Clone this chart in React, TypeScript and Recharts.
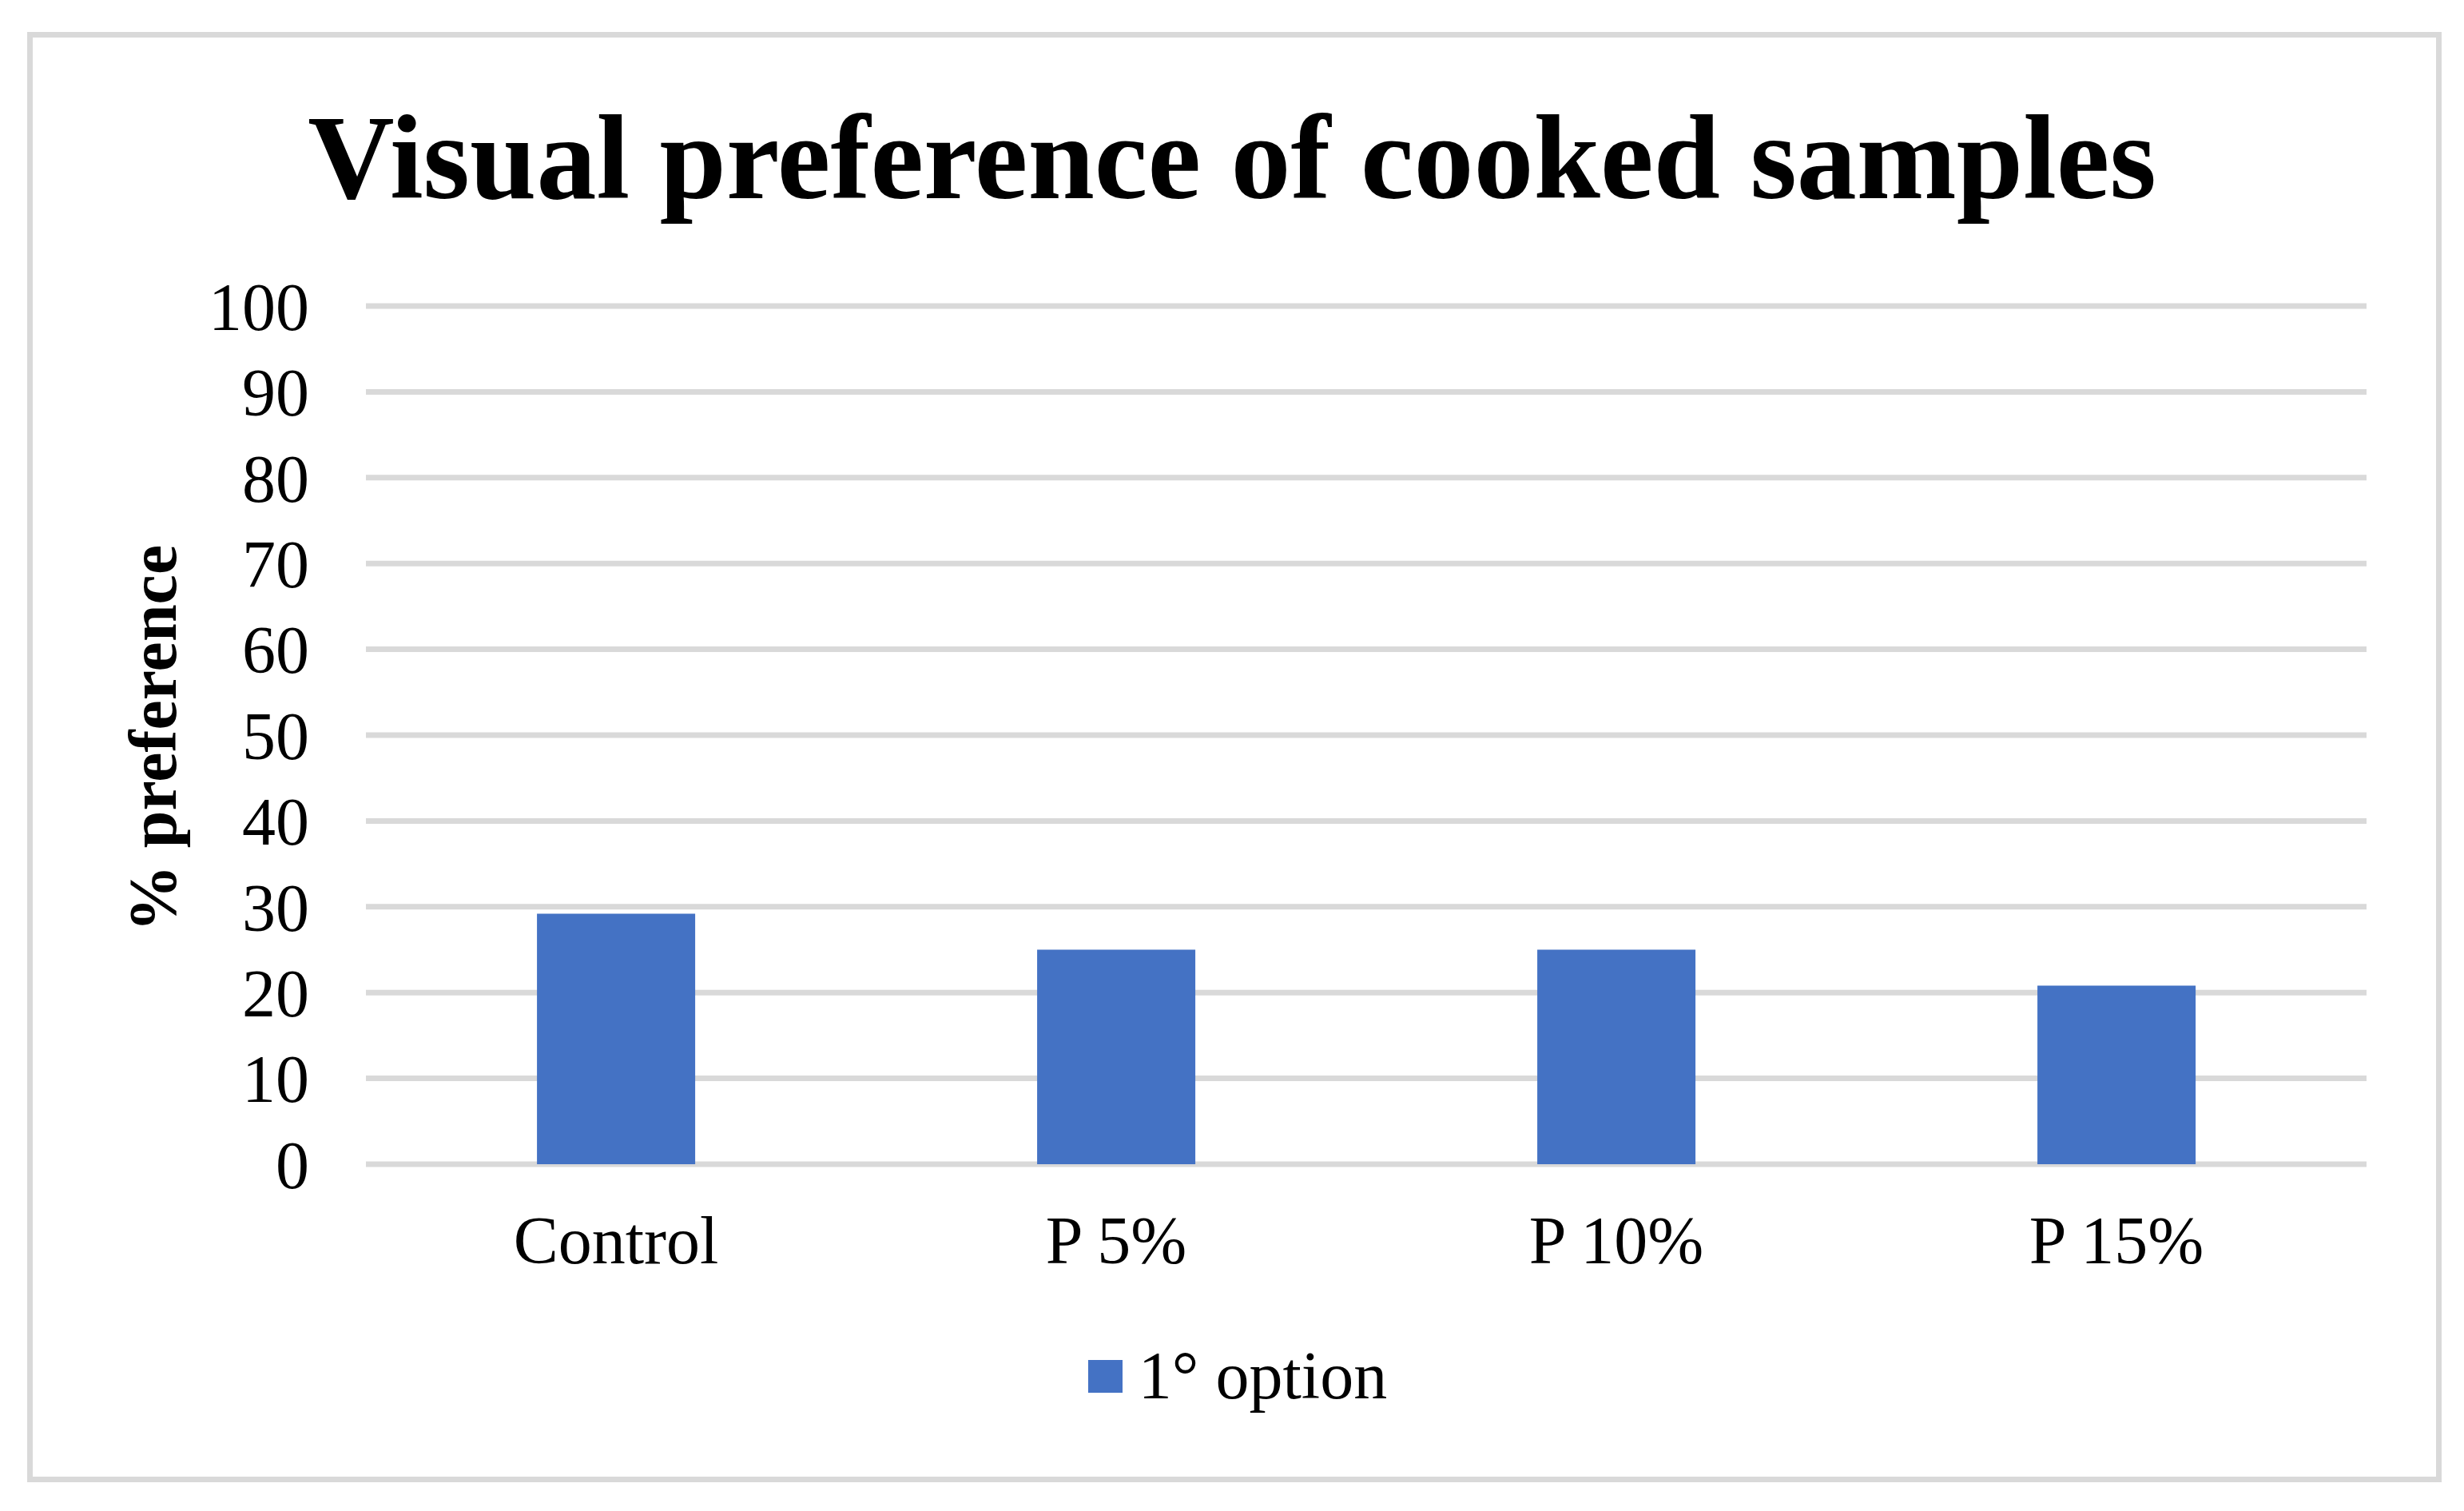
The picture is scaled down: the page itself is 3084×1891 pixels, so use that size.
import React from 'react';
import { BarChart, Bar, XAxis, YAxis, CartesianGrid, Legend } from 'recharts';

const categories = ['Control', 'P 5%', 'P 10%', 'P 15%'];
const firstOption = [29.2, 25, 25, 20.8];
const yTicks = [0, 10, 20, 30, 40, 50, 60, 70, 80, 90, 100];
const seriesName = '1° option';
const titleText = 'Visual preference of cooked samples';
const yAxisTitle = '% preference';

const data = categories.map((c, i) => ({ category: c, value: firstOption[i] }));

const FONT = "'Liberation Serif', 'Times New Roman', serif";
const W = 3084;
const H = 1891;

const renderYLabel = (props: any) => {
  const vb = props.viewBox || { x: 0, y: 0, width: 0, height: 0 };
  const x = vb.x + 220;
  const y = vb.y + vb.height / 2 + 4;
  return (
    <text
      x={x}
      y={y}
      textAnchor="middle"
      transform={`rotate(-90, ${x}, ${y})`}
      fontFamily={FONT}
      fontWeight="bold"
      fontSize={84}
      fill="#000"
    >
      {yAxisTitle}
    </text>
  );
};

const renderLegend = (props: any) => {
  const payload = props.payload || [];
  return (
    <div style={{ display: 'flex', justifyContent: 'center', alignItems: 'center', height: 84, paddingLeft: 14 }}>
      {payload.map((p: any, i: number) => (
        <div key={i} style={{ display: 'flex', alignItems: 'center' }}>
          <div style={{ width: 43, height: 41, background: p.color, marginRight: 20 }} />
          <span style={{ fontFamily: FONT, fontSize: 84, lineHeight: 1, color: '#000' }}>{p.value}</span>
        </div>
      ))}
    </div>
  );
};

export default function App() {
  return (
    <div style={{ position: 'absolute', left: 0, top: 0, width: W, height: H, background: '#fff' }}>
      <div
        style={{
          position: 'absolute',
          left: 34,
          top: 40,
          width: 3022,
          height: 1815,
          border: '7px solid #d9d9d9',
          boxSizing: 'border-box',
        }}
      />
      <div
        style={{
          position: 'absolute',
          left: 0,
          top: 122,
          width: W,
          textAlign: 'center',
          fontFamily: FONT,
          fontWeight: 'bold',
          fontSize: 150,
          lineHeight: 1,
          color: '#000',
          whiteSpace: 'nowrap',
        }}
      >
        {titleText}
      </div>
      <div style={{ position: 'absolute', left: 0, top: 0 }}>
        <BarChart
          width={W}
          height={H}
          data={data}
          margin={{ top: 383, right: 122, bottom: 284, left: 0 }}
          barCategoryGap="34.2%"
        >
          <CartesianGrid vertical={false} stroke="#d9d9d9" strokeWidth={7} />
          <XAxis
            dataKey="category"
            axisLine={false}
            tickLine={false}
            tickSize={0}
            tickMargin={64}
            height={150}
            tick={{ fill: '#000', fontSize: 84, fontFamily: FONT }}
            interval={0}
          />
          <YAxis
            domain={[0, 100]}
            ticks={yTicks}
            axisLine={false}
            tickLine={false}
            tickSize={0}
            tickMargin={71}
            width={458}
            tick={{ fill: '#000', fontSize: 84, fontFamily: FONT }}
            label={{ value: yAxisTitle, content: renderYLabel }}
          />
          <Legend
            layout="horizontal"
            verticalAlign="middle"
            align="center"
            content={renderLegend}
            wrapperStyle={{ top: 1680, left: 0, width: W }}
          />
          <Bar dataKey="value" name={seriesName} fill="#4472c4" isAnimationActive={false} />
        </BarChart>
      </div>
    </div>
  );
}
